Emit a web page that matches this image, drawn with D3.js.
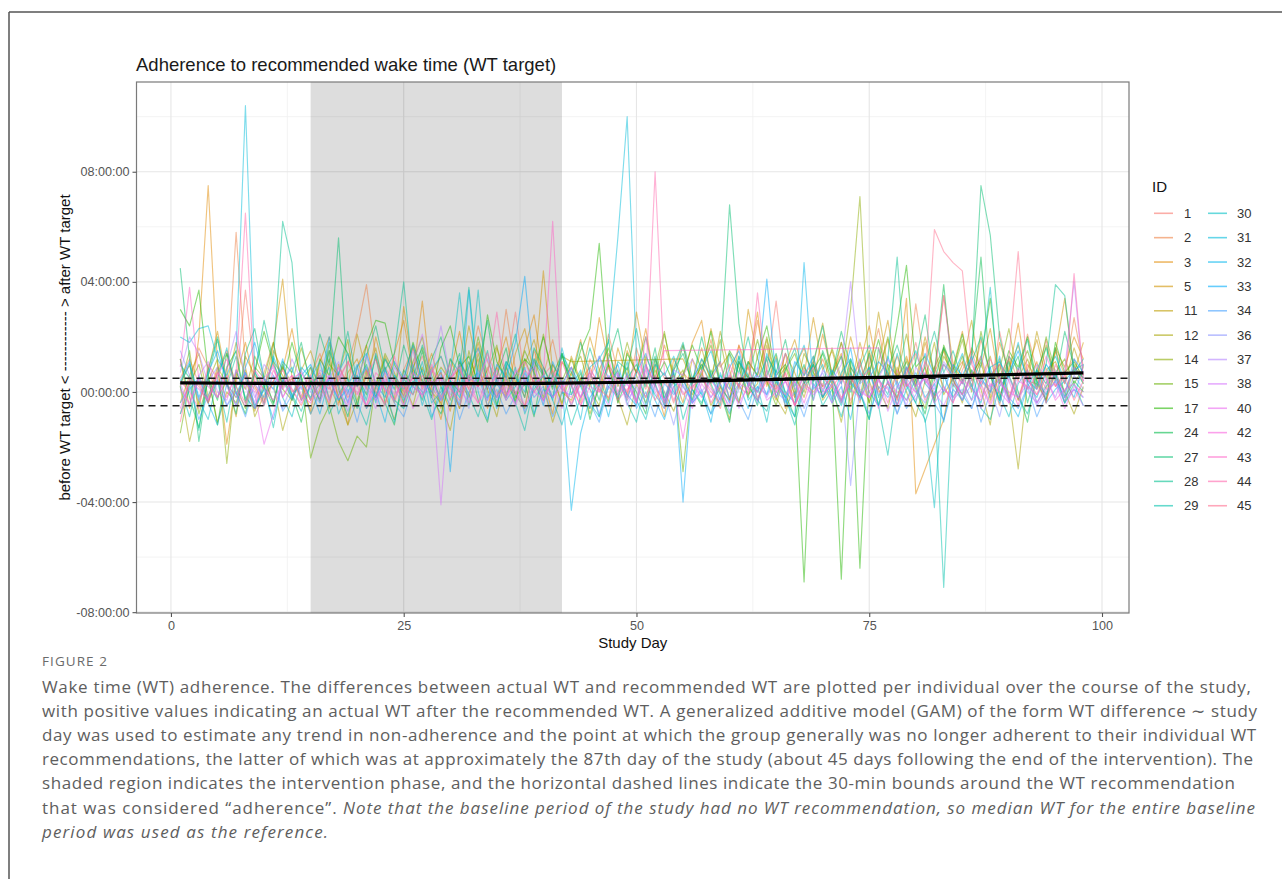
<!DOCTYPE html>
<html>
<head>
<meta charset="utf-8">
<title>WT adherence</title>
<script src="https://d3js.org/d3.v7.min.js"></script>
<style>
  body { margin: 0; background: #fff; }
  svg { display: block; }
</style>
</head>
<body>
<div id="chart"></div>
<script>
// ---- data (hours relative to WT target, study days 1..98; null = no record) ----
var firstDay = 1, lastDay = 98;
var phaseStart = 15, phaseEnd = 42;      // intervention phase (shaded)
var adherenceBound = 0.5;                // +/- 30 min

var ids = ["1","2","3","5","11","12","14","15","17","24","27","28","29",
           "30","31","32","33","34","36","37","38","40","42","43","44","45"];

var id1 = [0.5,1.2,0.3,-0.4,0.8,1.5,0.2,3.7,0.6,-0.3,0.4,0.9,0.1,-0.5,
  0.3,0.7,-0.2,0.5,1.1,0.4,-0.6,0.2,0.9,0.3,-0.1,0.6,1.3,0.2,
  -0.4,0.5,0.8,0.1,1.6,0.4,-0.2,0.7,2.9,0.5,0.0,0.6,1.0,0.3,
  -0.5,0.4,0.9,0.2,1.4,0.6,-0.3,0.8,0.1,1.2,0.5,-0.4,0.7,0.3,
  1.0,0.2,-0.6,0.5,1.7,0.3,0.0,0.8,3.3,0.4,-0.2,0.6,1.1,0.2,
  0.5,-0.3,0.9,0.4,1.3,0.1,0.7,-0.5,0.6,1.8,0.3,0.9,0.2,-0.4,
  0.8,1.5,0.4,0.0,2.2,0.6,-0.3,1.0,0.5,1.9,0.2,0.7,1.2,0.4];
var id2 = [-0.8,0.4,1.6,0.9,-0.2,0.4,5.8,0.9,-0.6,0.7,1.8,0.2,0.5,-0.3,
  0.6,1.4,0.2,-0.5,1.0,2.2,3.9,1.2,0.3,-0.4,0.8,1.6,0.1,0.7,
  1.3,0.2,-0.6,0.9,2.4,1.1,0.4,3.0,0.8,-0.2,1.5,0.6,1.9,0.3,
  0.9,-0.4,1.2,0.5,2.1,0.7,-0.1,1.6,0.4,1.0,-0.5,0.8,1.7,0.3,
  0.6,1.9,0.2,-0.3,1.1,0.5,2.6,0.8,0.1,1.4,-0.2,0.9,0.4,1.2,
  0.3,1.8,0.7,-0.4,1.0,2.3,0.5,1.3,0.2,3.2,0.9,-0.3,1.6,0.6,
  1.1,0.2,1.9,0.7,-0.5,1.3,0.4,2.1,0.8,0.1,1.5,0.6,2.7,0.9];
var id3 = [1.2,-0.6,2.0,7.5,1.0,-1.9,0.5,1.8,0.2,-0.4,1.5,0.8,2.3,0.4,
  -0.7,1.1,2.0,0.3,-1.2,0.9,1.7,0.2,-0.5,1.4,2.6,0.6,3.3,0.1,
  -1.0,0.7,2.2,0.4,1.2,-0.6,0.9,2.0,0.3,1.6,2.8,0.5,-0.8,1.1,
  0.6,1.9,0.2,2.7,1.0,-0.4,1.5,0.7,2.3,0.3,-0.9,1.2,0.5,1.8,
  2.6,0.4,1.1,-0.3,1.7,0.8,2.9,0.2,1.3,-0.6,0.9,1.6,0.4,2.1,
  0.7,1.4,-0.5,1.0,2.4,0.6,1.9,0.3,3.4,-3.7,null,null,-1.0,0.9,
  2.2,0.5,1.3,-0.2,1.8,0.7,2.5,0.4,1.1,-0.4,1.6,0.9,2.0,1.2];
var id5 = [0.3,1.0,-0.5,0.8,2.2,0.4,-0.9,1.3,0.6,0.1,1.7,4.1,0.5,-0.2,
  0.9,0.2,1.5,-0.4,0.7,1.2,0.1,2.0,0.6,-0.3,3.1,0.8,0.4,1.4,
  0.2,-0.7,1.1,0.5,1.8,0.3,0.9,-0.2,1.4,2.3,0.6,4.4,0.7,-0.5,
  1.3,0.4,2.0,0.8,-0.3,1.6,0.5,2.9,1.0,0.2,1.7,0.6,-0.4,1.2,
  0.5,2.3,0.9,1.4,0.1,3.0,1.2,0.4,-0.3,1.0,1.9,0.6,2.7,0.8,
  1.5,0.3,2.0,0.7,-0.4,1.1,2.6,0.5,1.3,0.2,1.8,0.6,3.5,1.0,
  0.4,1.6,0.9,2.3,0.3,1.2,-0.3,0.8,1.9,0.5,1.4,3.4,0.7,1.8];
var id11 = [-0.4,0.6,1.4,-0.2,0.9,0.3,1.8,0.5,-0.7,0.2,1.1,0.6,-0.3,0.8,
  1.5,0.4,-0.5,1.0,0.2,2.1,0.7,-0.2,1.3,0.5,0.0,1.7,0.3,0.9,
  -0.6,1.2,0.4,2.4,0.8,0.1,1.6,0.6,-0.3,1.0,1.9,0.5,0.2,1.3,
  1.1,null,null,null,null,null,null,null,null,null,null,null,1.2,0.4,
  1.6,0.3,2.2,0.8,-0.4,1.1,0.6,1.9,0.2,1.4,0.7,-0.2,1.0,2.5,
  0.6,1.3,0.1,1.8,0.5,2.9,0.9,-0.3,1.2,0.4,2.0,0.7,1.5,0.2,
  1.0,2.6,0.5,1.3,-0.2,0.9,1.7,0.4,2.2,0.8,1.1,0.3,1.6,0.6];
var id12 = [0.2,-1.8,-0.3,0.5,-1.1,0.0,-0.4,0.8,-0.9,-0.1,0.3,-1.4,-0.2,0.4,
  -0.8,0.1,1.2,-0.2,-1.2,-0.3,0.6,1.6,-0.1,-1.0,0.3,-0.5,0.9,0.0,
  -0.4,-1.4,0.4,-0.2,1.4,0.1,-0.9,0.7,-0.1,-0.6,1.2,0.2,-1.1,0.0,
  -0.3,0.5,-0.8,0.2,1.0,-0.2,-1.2,0.3,-0.4,0.8,0.0,-0.7,0.4,-0.1,
  0.7,-0.5,0.2,-1.0,1.1,-0.1,0.3,1.7,-0.2,-0.8,0.5,0.0,1.3,-0.3,
  0.2,-1.1,0.6,-0.2,1.5,0.1,-0.6,0.9,0.0,-0.9,0.4,1.8,-0.1,0.5,
  -0.4,0.8,0.1,-1.2,1.2,-0.1,-2.8,0.4,0.3,-0.3,0.7,0.0,-0.8,0.2];
var id14 = [0.2,1.5,-0.8,0.4,1.2,-2.6,0.7,0.1,1.3,0.5,-0.4,0.9,0.3,1.6,
  0.4,-0.3,1.0,0.6,1.9,-0.5,0.8,0.2,1.4,0.7,-0.2,1.1,2.0,0.3,
  0.9,0.4,-0.6,1.5,0.2,0.8,1.7,-0.1,0.6,1.2,0.3,2.1,0.5,-0.4,
  0.7,1.3,0.1,-0.5,1.0,0.4,1.8,0.6,-0.2,0.9,2.2,0.3,0.8,-0.3,
  1.2,0.5,1.9,0.2,-0.4,1.1,0.6,2.0,0.4,0.9,-0.1,1.4,0.7,0.2,
  1.6,0.5,3.0,7.1,0.4,-0.5,1.0,0.6,2.1,0.3,0.9,-0.2,1.3,0.7,
  1.9,0.4,1.1,-0.3,0.8,2.3,0.5,1.2,0.1,1.7,0.6,-0.4,1.0,0.3];
var id15 = [-1.5,0.3,1.0,-0.4,0.7,1.4,0.2,-0.6,0.9,0.5,1.8,0.1,-0.3,0.6,
  -2.4,-1.2,-0.5,-1.8,-2.5,-1.6,-2.0,0.3,1.2,0.5,-0.4,0.9,1.6,0.2,
  0.7,-0.3,1.1,0.4,2.0,0.6,-0.5,0.9,0.2,1.5,0.7,-0.2,1.0,0.4,
  1.2,0.3,-0.6,0.8,1.6,0.2,0.9,-0.4,1.3,0.5,2.1,0.6,-2.9,0.4,
  0.9,1.7,0.2,-0.3,1.1,0.5,1.9,0.4,-0.5,0.8,1.4,0.3,1.0,-0.2,
  0.6,1.8,0.3,1.2,-0.4,0.7,2.0,0.5,1.1,0.2,-0.6,0.9,1.6,0.4,
  1.3,0.0,2.2,0.6,1.0,-0.3,0.8,1.5,0.4,2.0,0.7,1.2,0.3,0.9];
var id17 = [3.0,2.4,3.7,0.6,-1.2,0.9,1.5,-0.4,0.7,2.2,1.0,0.3,1.8,0.5,
  -0.3,1.2,0.6,2.0,1.4,0.2,1.7,2.6,2.5,1.0,0.4,1.8,0.7,-0.2,
  1.6,2.4,0.9,1.3,0.3,2.8,1.1,0.5,-0.4,1.2,0.8,2.0,0.6,1.4,
  0.2,1.5,2.3,5.4,0.9,-0.3,1.4,0.7,2.0,0.4,1.1,0.3,0.6,1.7,
  0.8,2.2,0.3,1.5,0.9,-0.2,1.3,2.4,0.6,1.0,0.1,-6.9,0.8,1.4,
  0.4,-6.8,1.1,-6.4,0.7,1.9,0.5,2.4,4.6,0.9,1.3,-0.4,1.7,0.8,
  2.1,0.6,1.2,3.4,0.3,1.5,0.9,2.0,0.4,-0.3,1.8,0.7,1.1,0.5];
var id24 = [1.2,-0.2,-1.3,0.5,-0.3,1.4,0.0,-0.8,0.7,0.2,-0.5,1.0,-0.1,-1.1,
  0.4,-0.3,1.8,0.1,-0.9,0.6,-0.1,1.3,-0.4,-1.2,0.8,0.2,1.5,-0.2,
  -0.8,0.4,0.0,1.1,-0.3,-1.1,0.6,1.6,-0.2,0.3,-0.9,0.9,0.1,1.4,
  -0.1,0.7,-1.0,0.3,1.9,-0.4,0.5,0.0,-0.8,1.2,-0.2,0.4,1.7,0.1,
  -0.5,0.8,0.0,-1.1,1.3,0.2,-0.3,0.6,1.4,-0.1,-0.9,0.3,1.0,-0.2,
  0.5,-0.4,1.2,0.0,-1.0,1.6,0.3,-0.2,0.9,0.1,-0.8,0.7,3.9,0.4,
  -0.1,1.4,4.9,0.6,-0.3,1.1,0.0,-1.1,0.8,0.3,1.6,-0.2,0.4,0.0];
var id27 = [4.5,1.2,-1.8,0.6,1.9,0.3,-0.8,1.4,2.3,0.5,-0.4,1.1,0.7,1.8,
  0.2,2.1,1.0,5.6,0.4,-0.6,1.3,2.4,0.8,0.1,1.7,0.6,-0.3,1.2,
  2.0,0.5,1.4,-0.5,0.9,2.6,0.3,1.1,0.6,-0.2,1.6,0.9,0.2,1.3,
  0.4,1.8,0.7,-0.3,1.2,2.3,0.5,1.0,0.2,1.6,-0.4,0.8,1.4,0.3,
  2.0,0.6,1.1,6.8,2.5,0.4,-0.5,1.3,0.7,1.9,0.2,1.0,-0.3,1.5,
  0.6,2.2,0.9,0.3,1.4,-0.2,0.8,1.7,0.5,1.1,2.8,0.4,1.6,0.9,
  0.3,1.2,7.5,5.7,2.0,0.6,1.3,-0.4,0.8,1.6,0.4,2.2,0.9,0.5];
var id28 = [1.0,0.5,-1.4,0.8,2.0,0.2,1.3,-0.3,0.7,2.6,1.1,6.2,4.7,0.4,
  0.9,-0.4,1.5,0.6,2.2,0.3,1.0,-0.2,0.8,1.4,4.0,0.5,1.7,0.6,
  -0.3,1.2,0.7,3.8,0.4,1.5,-0.5,0.9,2.1,0.3,1.1,0.6,-0.2,1.4,
  0.7,0.2,1.6,0.5,-0.4,1.1,0.8,2.3,0.4,1.3,-0.3,0.9,1.8,0.5,
  1.0,0.3,-0.5,1.4,0.7,2.0,0.4,1.2,-0.2,0.8,1.6,0.3,1.1,2.4,
  0.5,1.3,0.0,0.9,1.7,0.6,1.2,4.9,0.3,-0.4,1.0,2.2,0.7,1.5,
  0.4,1.1,2.0,0.6,-0.3,1.3,0.8,1.9,0.2,1.0,3.9,3.5,0.7,1.2];
var id29 = [0.2,-0.9,0.6,-0.3,0.4,-1.1,0.8,-0.2,-0.6,0.3,-1.3,0.5,-0.1,-0.7,
  0.3,0.6,-0.8,-0.1,0.5,-0.4,-1.2,0.2,0.9,-0.3,-0.6,0.4,0.0,-1.0,
  0.2,-0.5,0.7,-0.1,-0.9,0.4,-0.2,1.0,-0.4,-1.4,0.3,-0.3,0.6,0.1,
  -1.2,-0.2,0.4,-0.9,0.2,0.8,-0.4,-1.1,0.5,-0.1,-0.6,0.7,-1.0,0.1,
  -0.4,0.6,-0.1,-0.8,0.3,1.1,-0.3,-0.7,0.4,-0.2,-1.2,0.2,0.6,-0.5,
  0.1,-0.9,0.4,-0.2,0.9,-0.5,-2.3,0.2,-0.3,0.5,-1.1,0.0,-7.1,0.3,
  -0.3,0.8,-0.6,-1.0,0.2,0.6,-0.2,-0.8,0.4,-0.1,0.7,-0.4,0.3,-0.5];
var id30 = [0.3,1.0,-0.3,-1.0,0.5,1.6,-0.1,0.7,-0.6,0.1,1.2,-0.2,-0.9,0.4,
  -0.2,0.3,0.9,-0.8,0.0,0.6,-0.3,1.4,0.2,-1.1,0.5,-0.1,1.1,-0.4,
  0.0,0.7,3.6,0.3,3.7,-0.2,0.3,-0.2,0.9,-0.8,0.1,0.6,-0.3,-1.2,
  0.2,0.8,-0.4,-0.9,0.4,-0.1,1.1,-0.3,-1.0,0.3,0.7,0.0,-0.5,0.5,
  -0.1,-0.8,0.6,0.1,1.3,-0.3,0.2,-1.1,0.8,0.0,-0.4,0.4,1.0,-0.2,
  0.3,-0.5,0.7,0.0,-1.0,0.5,-0.1,1.4,0.2,-0.4,-1.0,-4.2,0.6,-0.2,
  0.4,-0.3,1.0,3.8,-0.1,-0.9,0.3,0.8,-0.4,0.2,0.6,0.0,0.9,0.3];
var id31 = [2.0,1.8,2.3,2.4,1.2,0.6,1.5,10.4,0.8,-0.5,1.3,0.4,-0.2,0.9,
  0.5,1.1,-0.3,0.7,1.4,0.2,0.9,-0.4,1.2,0.6,0.1,1.0,-0.5,0.8,
  1.3,0.4,-0.2,0.9,1.6,0.3,-0.6,1.1,0.5,0.0,1.2,0.7,-0.3,1.6,
  0.3,-1.0,0.9,1.2,1.8,5.6,10.0,1.2,-0.5,1.0,0.6,1.3,0.2,-0.3,
  0.8,1.5,0.3,-0.4,1.1,0.6,0.0,1.4,0.5,-0.2,0.9,1.7,0.4,1.0,
  -0.3,0.7,1.2,0.4,0.9,-0.5,1.3,0.2,0.8,1.5,0.3,-0.1,1.0,0.6,
  1.4,0.2,-0.4,0.9,1.1,0.5,1.8,0.3,-0.2,0.7,1.3,0.4,0.8,1.0];
var id32 = [-0.8,0.1,0.5,-0.4,-1.2,0.3,-0.2,0.7,-0.5,0.1,-1.0,0.4,0.9,-0.3,
  0.2,-0.8,0.5,-0.3,0.2,1.0,-0.6,0.0,-1.1,0.6,-0.3,0.3,0.8,-0.9,
  -0.1,0.4,-0.5,3.7,0.0,-1.0,0.5,-0.3,0.2,0.9,-0.8,0.1,-0.2,0.4,
  -4.3,-1.5,-0.2,0.3,-0.9,0.6,-0.1,-0.5,1.0,-0.3,-1.0,0.2,0.5,-0.4,
  0.0,-1.1,0.7,-0.2,0.3,-0.6,0.6,-0.1,1.2,-0.3,-0.9,4.7,0.1,0.5,
  -0.4,0.2,-1.0,0.8,0.0,-0.5,0.4,-0.8,0.1,0.7,-0.2,0.3,-1.1,0.6,
  -0.1,-0.6,0.5,0.0,1.3,-0.3,-0.9,0.2,0.8,-0.4,0.1,0.4,-0.2,1.0];
var id33 = [0.4,1.1,-0.2,0.7,1.5,0.3,-0.5,0.9,1.8,0.5,0.1,1.2,-0.3,0.6,
  1.0,0.2,2.0,0.6,-0.4,0.9,1.4,0.3,-0.2,1.1,0.5,1.7,0.4,0.0,
  0.8,-2.9,1.2,0.4,0.7,-0.3,1.0,0.5,1.8,4.2,0.6,-0.5,1.1,0.3,
  0.9,0.2,-0.6,1.3,0.5,1.0,-0.2,0.7,1.4,0.3,-0.5,0.8,-4.0,0.4,
  1.2,0.6,-0.3,0.9,1.5,0.2,0.7,4.1,0.4,-0.4,1.1,0.6,1.3,0.0,
  0.8,0.3,1.6,-0.3,0.5,1.1,0.7,-0.5,0.9,0.2,1.4,0.6,0.0,1.0,
  0.6,1.3,0.2,0.9,-0.4,0.7,1.5,0.4,0.1,1.0,0.5,-0.2,1.2,0.7];
var id34 = [-0.4,0.2,-1.0,-0.1,0.4,-0.5,0.0,-0.9,0.3,-0.2,0.6,-0.7,-0.1,0.2,
  -0.8,0.0,0.5,-0.3,0.1,-1.1,0.3,-0.2,0.8,-0.4,-0.9,0.2,-0.1,0.4,
  -0.3,0.3,-1.0,0.0,0.6,-0.5,0.1,-0.8,-0.1,0.7,-0.2,0.2,-0.9,0.0,
  -0.1,0.4,-0.4,-1.1,0.2,-0.2,0.7,-0.6,0.0,-0.9,0.3,-0.1,0.5,-0.4,
  0.1,-0.8,-0.2,0.4,-0.3,-1.0,0.2,-0.1,0.6,-0.5,0.0,-0.9,0.3,-0.2,
  0.5,-0.3,0.3,0.0,-0.8,0.2,-0.2,0.4,-0.6,-0.1,0.7,-0.4,-1.0,0.1,
  -0.3,0.3,-1.1,0.0,0.5,-0.2,-0.6,0.2,-0.9,-0.1,0.4,-0.4,0.1,-0.2];
var id36 = [1.5,0.6,-0.3,0.4,0.9,-0.5,0.2,0.7,-0.2,0.5,0.1,-0.6,0.3,0.8,
  0.0,-0.4,0.6,0.2,-0.7,0.5,0.9,-0.3,0.4,0.1,-0.5,0.7,0.3,-0.2,
  0.6,-0.1,0.4,-0.6,0.8,0.2,-0.3,0.5,0.0,-0.7,0.3,0.6,-0.2,0.4,
  -0.5,0.3,0.1,-0.8,0.4,0.7,-0.3,0.2,-0.6,0.5,0.0,-1.2,0.3,-0.4,
  0.6,-0.2,0.3,-0.7,0.1,0.5,-0.4,0.8,0.0,-0.3,0.4,-0.6,0.2,0.7,
  -0.2,0.4,-3.4,0.3,0.6,-0.1,0.2,-0.8,0.5,0.0,-0.4,0.3,0.7,-0.3,
  0.1,-0.6,0.4,0.2,-0.9,0.5,-0.2,0.3,-0.5,0.0,0.4,-0.3,0.6,0.1];
var id37 = [0.7,2.0,1.4,0.3,-0.2,0.9,2.2,0.5,-0.4,1.0,0.6,0.1,1.2,0.4,
  -0.3,0.8,0.5,1.1,-0.1,0.6,1.3,0.2,-0.5,0.9,0.4,1.5,0.0,0.7,
  2.4,0.5,1.0,-0.3,0.6,1.2,0.3,-0.2,0.8,0.4,1.1,-0.4,0.7,0.2,
  0.9,-0.2,0.5,1.3,0.1,0.7,-0.5,0.4,1.0,0.2,-0.3,0.8,0.6,1.2,
  0.0,0.5,1.1,-0.4,0.7,0.3,0.9,-0.2,0.6,1.4,0.1,0.5,-0.3,0.8,
  0.4,1.0,4.0,0.7,-0.2,0.5,1.2,0.3,-0.5,0.9,0.4,0.1,1.1,0.6,
  -0.3,0.7,1.3,0.2,0.6,-0.4,0.9,0.3,1.0,0.5,-0.2,0.8,4.0,0.4];
var id38 = [0.3,-0.5,0.6,1.1,0.0,-0.3,0.8,0.2,-0.6,0.5,0.9,-0.2,0.4,0.1,
  0.6,-0.3,0.2,0.9,-0.4,0.5,0.1,-0.6,0.7,0.3,-0.2,1.0,2.1,0.4,
  -4.1,0.3,-0.5,0.6,0.2,-0.3,0.8,0.0,-0.4,0.5,0.9,-0.1,0.3,-0.6,
  0.4,-0.2,0.7,0.1,-0.5,0.6,0.3,-0.3,0.8,0.0,-0.6,0.4,0.2,-0.4,
  0.5,0.1,-0.3,0.7,-0.6,0.3,0.0,0.6,-0.2,0.4,-0.5,0.8,0.2,-0.1,
  0.3,-0.4,0.6,0.1,-0.2,0.5,-0.7,0.2,0.4,-0.3,0.7,0.0,-0.5,0.3,
  -0.1,0.5,-0.6,0.2,0.4,-0.3,0.6,0.0,-0.4,0.3,0.8,-0.2,0.1,-0.5];
var id40 = [-0.6,0.4,0.1,-0.3,0.7,0.2,-0.5,0.3,0.0,-1.9,-0.8,0.5,0.1,-0.4,
  0.3,-0.2,0.6,0.0,-0.5,0.4,0.2,-0.3,0.5,-0.1,0.3,-0.6,0.2,0.4,
  -0.3,0.5,0.1,-0.4,0.3,0.6,-0.2,0.2,-0.5,0.4,0.0,-0.3,0.5,0.1,
  -0.2,0.4,-0.5,0.2,0.6,-0.1,0.3,-0.4,2.0,0.1,-0.3,0.5,0.0,-0.6,
  0.3,-0.2,0.5,0.1,-0.4,0.2,0.6,-0.3,0.0,0.4,-0.5,0.2,-0.1,0.3,
  -0.4,0.5,0.1,-0.2,0.3,-0.6,0.4,0.0,-0.3,0.2,0.5,-0.4,0.1,-0.2,
  0.4,-0.3,0.2,-0.5,0.3,0.0,-0.2,0.6,-0.4,0.1,0.3,-0.6,0.2,0.0];
var id42 = [0.1,-0.4,0.5,0.2,-0.2,0.6,0.0,-0.5,0.4,0.1,-0.3,0.3,0.6,-0.1,
  -0.4,0.2,0.5,-0.2,0.3,0.0,-0.5,0.4,0.1,-0.3,0.6,0.2,-0.1,0.3,
  0.5,-0.2,0.1,0.4,-0.4,0.2,0.6,-0.1,0.3,-0.5,0.0,0.4,-0.2,0.2,
  0.3,-0.5,0.2,0.0,0.5,-0.3,0.1,0.4,-0.2,0.6,-0.4,0.2,-1.7,0.3,
  -0.2,0.4,0.0,-0.5,0.3,0.1,-0.3,0.5,0.2,-0.1,0.4,-0.4,0.6,0.0,
  0.2,-0.3,0.5,0.0,-0.2,0.4,0.1,-0.5,0.3,0.0,0.6,-0.2,0.2,-0.4,
  0.5,0.1,-0.3,0.3,0.0,-0.4,0.4,0.2,-0.1,0.5,-0.3,0.1,0.3,-0.2];
var id43 = [0.9,3.8,0.4,-0.3,0.6,1.2,0.2,-0.4,0.8,0.3,1.0,-0.2,0.5,0.7,
  0.1,0.6,-0.3,0.4,1.1,0.2,-0.5,0.7,0.3,1.3,0.0,0.5,-0.2,0.8,
  0.4,1.0,-0.1,0.6,0.2,1.4,0.5,-0.3,0.7,1.1,0.3,0.6,6.2,0.0,
  0.5,-0.2,0.8,0.3,1.2,0.0,0.6,-0.4,0.9,0.4,1.5,null,null,null,
  null,null,null,null,null,null,null,null,null,null,null,null,null,null,
  null,null,null,null,null,1.6,0.4,-0.3,0.9,0.2,1.1,0.5,3.5,0.7,
  0.3,1.2,-0.2,0.6,1.0,0.4,-0.5,0.8,0.1,1.3,0.5,0.0,0.9,0.4];
var id44 = [0.4,0.0,-0.6,1.0,0.5,-0.2,0.7,6.5,0.3,-0.4,0.8,0.1,0.6,-0.3,
  0.5,0.2,-0.4,0.9,0.3,-0.1,0.6,1.2,0.0,0.4,-0.5,0.7,0.2,1.0,
  -0.2,0.5,0.9,0.1,-0.4,0.6,2.9,0.3,-0.1,0.8,0.4,-0.3,0.5,1.1,
  0.2,-0.5,0.6,0.0,0.9,0.3,-0.2,1.3,0.4,8.0,0.7,-0.3,0.5,0.1,
  0.8,-0.4,0.3,1.0,0.2,-0.1,3.6,0.5,0.0,0.7,-0.5,0.4,0.9,0.1,
  0.6,-0.2,0.3,1.1,0.0,0.5,-0.4,0.8,0.2,0.6,-0.3,0.4,1.0,0.4,
  -0.1,0.7,0.3,1.2,0.5,-0.2,0.8,0.1,0.6,-0.4,1.0,0.3,4.3,0.5];
var id45 = [-1.1,0.5,0.2,-0.4,0.7,0.3,-0.2,0.6,0.1,-0.5,0.4,0.8,0.0,0.3,
  -0.3,0.4,0.1,0.6,-0.2,0.3,0.8,0.0,-0.4,0.5,0.2,-0.1,0.6,0.3,
  0.7,0.1,-0.3,0.5,0.2,0.9,-0.1,0.4,0.0,-0.5,0.6,0.3,0.8,0.2,
  -0.4,0.3,0.7,0.1,-0.2,0.5,0.0,0.8,0.3,-0.3,0.4,0.6,-0.1,0.2,
  0.5,0.0,-0.4,0.6,0.2,0.9,-0.2,0.4,0.1,0.7,-0.5,0.3,0.0,0.5,
  0.2,0.6,-0.3,0.4,0.8,0.0,0.3,-0.2,0.7,1.4,0.5,5.9,5.1,4.7,
  4.4,1.0,0.3,-0.4,0.6,1.2,5.1,0.5,-0.1,0.8,0.2,0.6,-0.3,0.4];

var seriesValues = [id1,id2,id3,id5,id11,id12,id14,id15,id17,id24,id27,id28,id29,
  id30,id31,id32,id33,id34,id36,id37,id38,id40,id42,id43,id44,id45];

// GAM smooth (WT difference ~ study day)
var gamDays   = [1, 10, 20, 30, 40, 50, 60, 70, 80, 90, 98];
var gamValues = [0.33, 0.31, 0.30, 0.30, 0.31, 0.36, 0.42, 0.49, 0.56, 0.63, 0.69];

var xTicks = [0, 25, 50, 75, 100];
var yTicks = [-8, -4, 0, 4, 8];

var captionLines = [
  "Wake time (WT) adherence. The differences between actual WT and recommended WT are plotted per individual over the course of the study,",
  "with positive values indicating an actual WT after the recommended WT. A generalized additive model (GAM) of the form WT difference \u223C study",
  "day was used to estimate any trend in non-adherence and the point at which the group generally was no longer adherent to their individual WT",
  "recommendations, the latter of which was at approximately the 87th day of the study (about 45 days following the end of the intervention). The",
  "shaded region indicates the intervention phase, and the horizontal dashed lines indicate the 30-min bounds around the WT recommendation"
];

// ---- layout ----
var width = 1282, height = 879;
var panel = { left: 136.5, right: 1129, top: 82, bottom: 613 };

var svg = d3.select("#chart").append("svg")
  .attr("width", width)
  .attr("height", height);

// frame around the figure
svg.append("line").attr("x1", 9).attr("x2", width).attr("y1", 12).attr("y2", 12)
  .attr("stroke", "#555").attr("stroke-width", 1.5);
svg.append("line").attr("x1", 9).attr("x2", 9).attr("y1", 12).attr("y2", height)
  .attr("stroke", "#555").attr("stroke-width", 1.5);

var x = d3.scaleLinear().domain([-3.7, 102.9]).range([panel.left, panel.right]);
var y = d3.scaleLinear().domain([-8.03, 11.26]).range([panel.bottom, panel.top]);

// ggplot hue palette (polar LUV, c = 100, l = 65)
function hueColor(h) {
  var Xn = 95.047, Yn = 100, Zn = 108.883, l = 65, c = 100;
  var un = 4 * Xn / (Xn + 15 * Yn + 3 * Zn), vn = 9 * Yn / (Xn + 15 * Yn + 3 * Zn);
  var hr = h * Math.PI / 180, U = c * Math.cos(hr), V = c * Math.sin(hr);
  var Y = Yn * Math.pow((l + 16) / 116, 3);
  var u = U / (13 * l) + un, v = V / (13 * l) + vn;
  var X = 9 * Y * u / (4 * v), Z = Y * (12 - 3 * u - 20 * v) / (4 * v);
  X /= 100; Y /= 100; Z /= 100;
  var rgb = [3.2404542 * X - 1.5371385 * Y - 0.4985314 * Z,
            -0.9692660 * X + 1.8760108 * Y + 0.0415560 * Z,
             0.0556434 * X - 0.2040259 * Y + 1.0572252 * Z].map(function(t) {
    t = t <= 0.0031308 ? 12.92 * t : 1.055 * Math.pow(t, 1 / 2.4) - 0.055;
    return Math.round(255 * Math.max(0, Math.min(1, t)));
  });
  return d3.rgb(rgb[0], rgb[1], rgb[2]).formatHex();
}
var color = d3.scaleOrdinal()
  .domain(ids)
  .range(ids.map(function(d, i) { return hueColor(15 + i * 360 / ids.length); }));

// panel background + grid
var g = svg.append("g");
g.append("rect").attr("x", panel.left).attr("y", panel.top)
  .attr("width", panel.right - panel.left).attr("height", panel.bottom - panel.top)
  .attr("fill", "#fff");

var xMinor = [12.5, 37.5, 62.5, 87.5];
var yMinor = [-6, -2, 2, 6, 10];
g.selectAll(".xminor").data(xMinor).enter().append("line")
  .attr("x1", x).attr("x2", x).attr("y1", panel.top).attr("y2", panel.bottom)
  .attr("stroke", "#f0f0f0").attr("stroke-width", 0.8);
g.selectAll(".yminor").data(yMinor).enter().append("line")
  .attr("y1", y).attr("y2", y).attr("x1", panel.left).attr("x2", panel.right)
  .attr("stroke", "#f0f0f0").attr("stroke-width", 0.8);
g.selectAll(".xmajor").data(xTicks).enter().append("line")
  .attr("x1", x).attr("x2", x).attr("y1", panel.top).attr("y2", panel.bottom)
  .attr("stroke", "#e6e6e6").attr("stroke-width", 1.1);
g.selectAll(".ymajor").data(yTicks).enter().append("line")
  .attr("y1", y).attr("y2", y).attr("x1", panel.left).attr("x2", panel.right)
  .attr("stroke", "#e6e6e6").attr("stroke-width", 1.1);

// intervention phase
g.append("rect")
  .attr("x", x(phaseStart)).attr("width", x(phaseEnd) - x(phaseStart))
  .attr("y", panel.top).attr("height", panel.bottom - panel.top)
  .attr("fill", "#000").attr("fill-opacity", 0.135);

svg.append("clipPath").attr("id", "clip").append("rect")
  .attr("x", panel.left).attr("y", panel.top)
  .attr("width", panel.right - panel.left).attr("height", panel.bottom - panel.top);

var line = d3.line()
  .x(function(p) { return x(p.day); })
  .y(function(p) { return y(p.value); });

var series = ids.map(function(id, i) {
  var vals = seriesValues[i];
  if (vals.length !== lastDay - firstDay + 1) console.warn("length", id, vals.length);
  var pts = vals.map(function(v, k) { return { day: firstDay + k, value: v }; })
    .filter(function(p) { return p.value !== null; });
  return { id: id, points: pts };
});

var plot = svg.append("g").attr("clip-path", "url(#clip)");
plot.selectAll(".series").data(series).enter().append("path")
  .attr("class", "series")
  .attr("d", function(s) { return line(s.points); })
  .attr("fill", "none")
  .attr("stroke", function(s) { return color(s.id); })
  .attr("stroke-width", 1.15)
  .attr("stroke-opacity", 0.5)
  .attr("stroke-linejoin", "round");

// 30-min bounds
plot.selectAll(".bound").data([-adherenceBound, adherenceBound]).enter().append("line")
  .attr("x1", panel.left).attr("x2", panel.right)
  .attr("y1", y).attr("y2", y)
  .attr("stroke", "#1a1a1a").attr("stroke-width", 1.4)
  .attr("stroke-dasharray", "7,5");

// GAM fit
var gamPts = gamDays.map(function(d, i) { return { day: d, value: gamValues[i] }; });
plot.append("path")
  .attr("d", line.curve(d3.curveMonotoneX)(gamPts))
  .attr("fill", "none").attr("stroke", "#000").attr("stroke-width", 3.2);

// panel border
svg.append("rect").attr("x", panel.left).attr("y", panel.top)
  .attr("width", panel.right - panel.left).attr("height", panel.bottom - panel.top)
  .attr("fill", "none").attr("stroke", "#7a7a7a").attr("stroke-width", 1.2);

// axes
function fmtHours(h) {
  var s = h < 0 ? "-" : "";
  return s + d3.format("02d")(Math.abs(h)) + ":00:00";
}
var xAxis = svg.append("g")
  .attr("transform", "translate(0," + panel.bottom + ")")
  .call(d3.axisBottom(x).tickValues(xTicks).tickSize(4).tickPadding(4));
var yAxis = svg.append("g")
  .attr("transform", "translate(" + panel.left + ",0)")
  .call(d3.axisLeft(y).tickValues(yTicks).tickFormat(fmtHours).tickSize(4).tickPadding(3));
[xAxis, yAxis].forEach(function(a) {
  a.select(".domain").remove();
  a.selectAll(".tick line").attr("stroke", "#555").attr("stroke-width", 1.1);
  a.selectAll(".tick text")
    .attr("fill", "#555")
    .style("font-family", "'Liberation Sans', Arial, sans-serif")
    .style("font-size", "12.6px");
});

var font = "'Liberation Sans', Arial, sans-serif";
svg.append("text")
  .attr("x", 136).attr("y", 71)
  .style("font-family", font).style("font-size", "18.5px").attr("fill", "#1a1a1a")
  .text("Adherence to recommended wake time (WT target)");

svg.append("text")
  .attr("x", (panel.left + panel.right) / 2).attr("y", 648)
  .attr("text-anchor", "middle")
  .style("font-family", font).style("font-size", "15px").attr("fill", "#111")
  .text("Study Day");

svg.append("text")
  .attr("transform", "translate(70," + ((panel.top + panel.bottom) / 2) + ") rotate(-90)")
  .attr("text-anchor", "middle")
  .style("font-family", font).style("font-size", "15px").attr("fill", "#111")
  .text("before WT target < ------------ > after WT target");

// legend
var legend = svg.append("g");
legend.append("text")
  .attr("x", 1152).attr("y", 192)
  .style("font-family", font).style("font-size", "15px").attr("fill", "#111")
  .text("ID");
var rowsPerCol = 13;
var items = legend.selectAll(".key").data(ids).enter().append("g")
  .attr("transform", function(d, i) {
    var col = Math.floor(i / rowsPerCol), row = i % rowsPerCol;
    return "translate(" + (1154 + col * 54) + "," + (213.3 + row * 24.37) + ")";
  });
items.append("line")
  .attr("x1", 0).attr("x2", 19)
  .attr("stroke", function(d) { return color(d); })
  .attr("stroke-width", 1.6).attr("stroke-opacity", 0.6);
items.append("text")
  .attr("x", function(d, i) { return i < rowsPerCol ? 30 : 29; })
  .attr("y", 4.5)
  .style("font-family", font).style("font-size", "13px").attr("fill", "#333")
  .text(function(d) { return d; });

// caption
var capFont = "'Open Sans', 'Noto Sans', sans-serif";
var capColor = "#5e5e5e";
function fitLine(textSel, targetRight) {
  var node = textSel.node();
  var w = node.getComputedTextLength();
  var n = node.textContent.length;
  var extra = (targetRight - 42 - w) / (n - 1);
  textSel.attr("letter-spacing", extra.toFixed(3));
}
var fig = svg.append("text").attr("x", 42).attr("y", 666)
  .style("font-family", capFont).style("font-size", "13.5px").attr("fill", "#6a6a6a")
  .text("FIGURE 2");
fitLine(fig, 107);

var capBase = 693, capStep = 24.1;
var capRight = [1251, 1257, 1256, 1253, 1235];
captionLines.forEach(function(t, i) {
  var tx = svg.append("text").attr("x", 42).attr("y", capBase + i * capStep)
    .style("font-family", capFont).style("font-size", "17px").attr("fill", capColor)
    .text(t);
  fitLine(tx, capRight[i]);
});
var l6 = svg.append("text").attr("x", 42).attr("y", capBase + 5 * capStep)
  .style("font-family", capFont).style("font-size", "17px").attr("fill", capColor);
l6.append("tspan").text("that was considered \u201Cadherence\u201D. ");
l6.append("tspan").style("font-style", "italic")
  .text("Note that the baseline period of the study had no WT recommendation, so median WT for the entire baseline");
fitLine(l6, 1255);
var l7 = svg.append("text").attr("x", 42).attr("y", capBase + 6 * capStep)
  .style("font-family", capFont).style("font-size", "17px").attr("fill", capColor)
  .style("font-style", "italic")
  .text("period was used as the reference.");
fitLine(l7, 328);
</script>
</body>
</html>
